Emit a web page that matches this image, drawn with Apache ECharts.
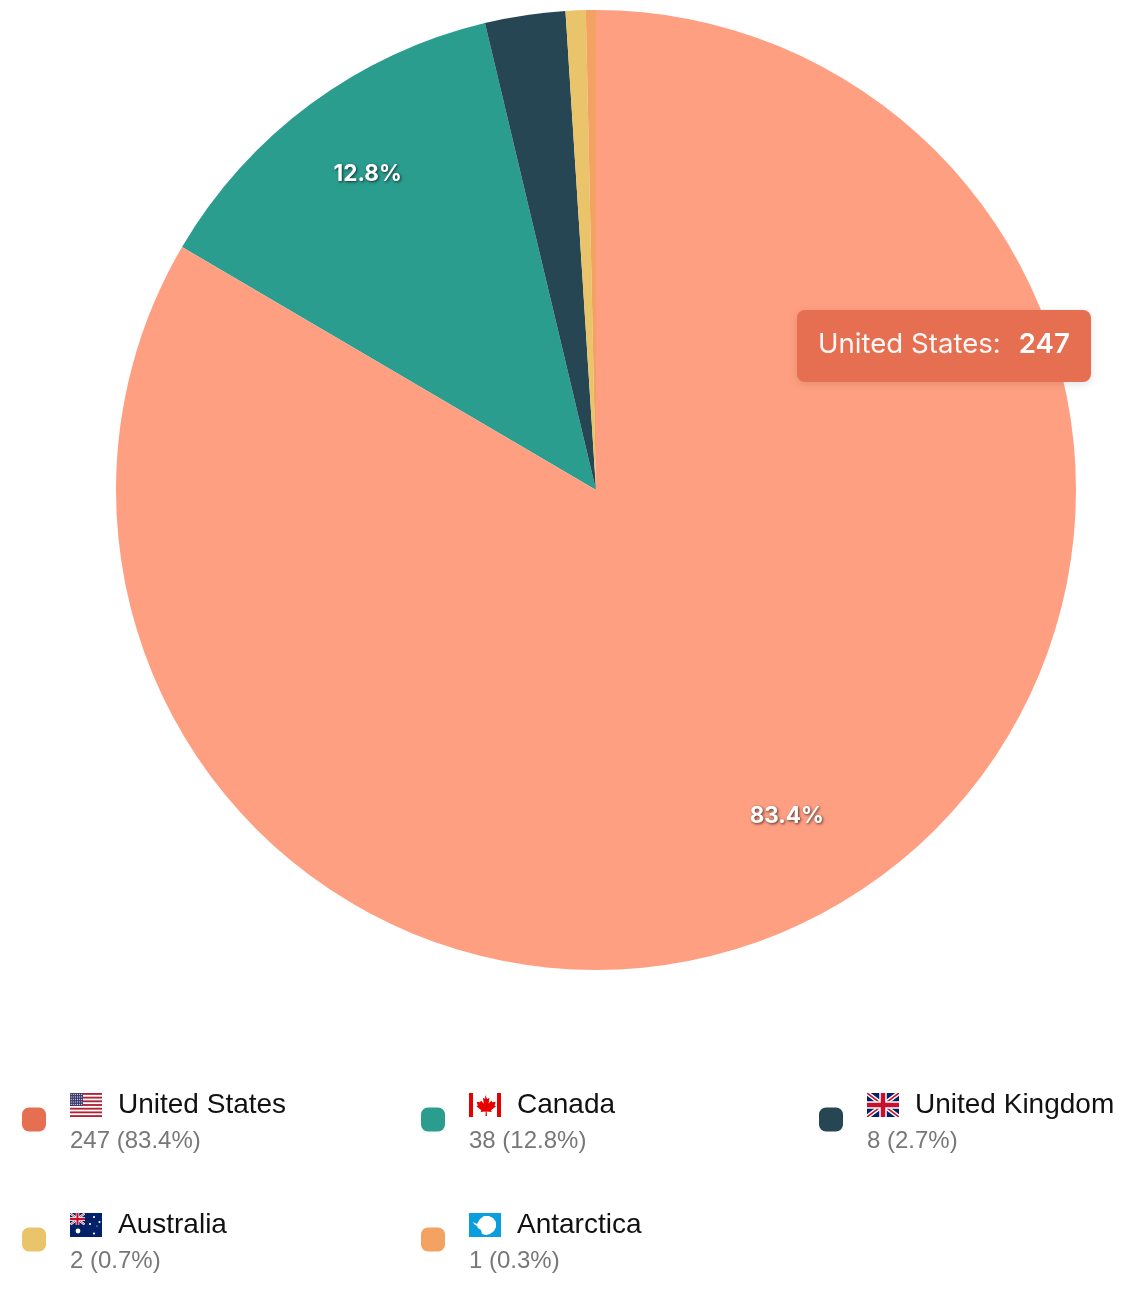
<!DOCTYPE html>
<html><head><meta charset="utf-8">
<style>html,body{margin:0;padding:0;background:#fff}#c{width:1138px;height:1306px}</style>
<script src="https://cdn.jsdelivr.net/npm/echarts@6/dist/echarts.min.js"></script>
</head><body><div id="c"></div>
<script>
const countries = ['United States','Canada','United Kingdom','Australia','Antarctica'];
const values = [247,38,8,2,1];
const percents = ['83.4','12.8','2.7','0.7','0.3'];
const colors = ['#E76F51','#2A9D8F','#264653','#E9C46A','#F4A261'];
const highlightColor = '#FF9F82';
const legendLefts = [22,421,819,22,421];
const legendTops = [1091,1091,1091,1211,1211];
const flagKeys = ['us','ca','gb','au','aq'];

const ukJack = '<rect width="32" height="24" fill="#012169"/><path d="M0 0L32 24M32 0L0 24" stroke="#fff" stroke-width="4.5"/><path d="M0 0L32 24M32 0L0 24" stroke="#C8102E" stroke-width="1.6"/><path d="M16 0V24M0 12H32" stroke="#fff" stroke-width="7.5"/><path d="M16 0V24M0 12H32" stroke="#C8102E" stroke-width="4.5"/>';
function usFlag(){let s='<rect width="32" height="24" fill="#fff"/>';
 for(let i=0;i<7;i++)s+='<rect y="'+(i*3.69)+'" width="32" height="1.85" fill="#B22234"/>';
 s+='<rect width="13" height="13" fill="#3C3B6E"/>';
 for(let r=0;r<5;r++)for(let c=0;c<6;c++)s+='<circle cx="'+(1.2+c*2.1)+'" cy="'+(1.4+r*2.5)+'" r=".55" fill="#dfe0ee"/>';
 return s;}
const flagSvgs = {
 us: usFlag(),
 ca: '<rect width="32" height="24" fill="#fff"/><rect width="4" height="24" fill="#E60000"/><rect x="28" width="4" height="24" fill="#E60000"/><path d="M16 2l2.200 4 2.300-1.200-.9 5.600 2.900-3 .8 1.900 3.400-.6-1.100 3.700 1.400.9-4.900 4 .6 1.800-5-.7.2 4.600h-1.400l.2-4.600-5 .7.6-1.800-4.900-4 1.400-.9-1.100-3.700 3.400.6.800-1.900 2.900 3-.9-5.600 2.300 1.200z" fill="#E60000"/>',
 gb: ukJack,
 au: '<rect width="32" height="24" fill="#012169"/><svg width="15" height="12" viewBox="0 0 32 24" preserveAspectRatio="none">'+ukJack+'</svg><g fill="#fff"><circle cx="8" cy="18" r="2.4"/><circle cx="24" cy="4" r="1.1"/><circle cx="29.5" cy="9" r="1.1"/><circle cx="20" cy="11" r="1.1"/><circle cx="24" cy="20.5" r="1.1"/><circle cx="27" cy="13" r=".6"/></g>',
 aq: '<rect width="32" height="24" fill="#0A9FDC"/><path d="M4 9l4 2 3-5 4-3h5l4 2 3 4v5l-2 4-4 3-4 1-4-1-1-4-3-2-1-2-3-2z" fill="#fff"/>'
};
const flagUri = k => 'data:image/svg+xml;charset=utf-8,'+encodeURIComponent('<svg xmlns="http://www.w3.org/2000/svg" width="32" height="24" viewBox="0 0 32 24">'+flagSvgs[k]+'</svg>');

const chart = echarts.init(document.getElementById('c'));
const CX = 596, CY = 490, R = 480, LABEL_PUSH = 1.58, LABEL_LIFT = 7;
// rounded square in the top 24 units of a 24x32 box, so it sits above the block's middle
const swatch = 'path://M7 0H17A7 7 0 0 1 24 7V17A7 7 0 0 1 17 24H7A7 7 0 0 1 0 17V7A7 7 0 0 1 7 0ZM0 32H24Z';

const legends = countries.map((name,i)=>{
  const rich = {
    flag:{width:32,height:24,backgroundColor:{image:flagUri(flagKeys[i])}},
    sp:{width:16,height:24},
    name:{fontFamily:'"Liberation Sans",Arial,sans-serif',fontSize:28,color:'#111',lineHeight:36,verticalAlign:'middle'},
    val:{fontFamily:'"Liberation Sans",Arial,sans-serif',fontSize:24,color:'#777',lineHeight:37}
  };
  return {
    show:true,left:legendLefts[i],top:legendTops[i],orient:'horizontal',padding:0,
    selectedMode:false,icon:swatch,itemWidth:24,itemHeight:32,itemGap:0,
    data:[{name,itemStyle:{color:colors[i]}}],
    formatter:()=>'{flag|}{sp|}{name|'+name+'}\n{val|'+values[i]+' ('+percents[i]+'%)}',
    textStyle:{padding:[0,0,0,19],rich}
  };
});

chart.setOption({
  animation:false,
  backgroundColor:'#fff',
  color:colors,
  legend:legends,
  tooltip:{
    trigger:'item',alwaysShowContent:true,showDelay:0,transitionDuration:0,hideDelay:0,
    position:[797,310],padding:0,borderWidth:0,backgroundColor:'transparent',
    extraCssText:'box-shadow:none;',
    formatter:p=>'<div style="box-sizing:border-box;width:294px;height:72px;line-height:67px;padding-left:21px;border-radius:8px;background:'+colors[p.dataIndex]+';box-shadow:0 2px 8px rgba(0,0,0,.12);color:#fff;font-family:Inter,sans-serif;font-size:27.6px;white-space:nowrap"><span style="opacity:.95">'+p.name+':</span><b style="font-weight:600;margin-left:18px">'+p.value+'</b></div>'
  },
  series:[{
    type:'pie',center:[CX,CY],radius:[0,R],startAngle:90,clockwise:true,
    avoidLabelOverlap:false,
    data:countries.map((name,i)=>({name,value:values[i]})),
    itemStyle:{borderWidth:0},
    emphasis:{scale:false,itemStyle:{color:highlightColor}},
    labelLine:{show:false},
    label:{
      show:true,position:'inner',
      formatter:p=>p.percent>=5?percents[p.dataIndex]+'%':'',
      color:'#fff',fontFamily:'Inter,sans-serif',fontSize:22.5,fontWeight:700,
      textShadowColor:'rgba(0,0,0,.7)',textShadowBlur:3,textShadowOffsetX:1,textShadowOffsetY:1
    },
    labelLayout:p=>{
      const mx=p.labelRect.x+p.labelRect.width/2, my=p.labelRect.y+p.labelRect.height/2;
      return {x:CX+(mx-CX)*LABEL_PUSH,y:CY+(my-CY)*LABEL_PUSH-LABEL_LIFT,align:'center',verticalAlign:'middle'};
    }
  }]
});
chart.dispatchAction({type:'highlight',seriesIndex:0,dataIndex:0});
chart.dispatchAction({type:'showTip',seriesIndex:0,dataIndex:0});
</script></body></html>
